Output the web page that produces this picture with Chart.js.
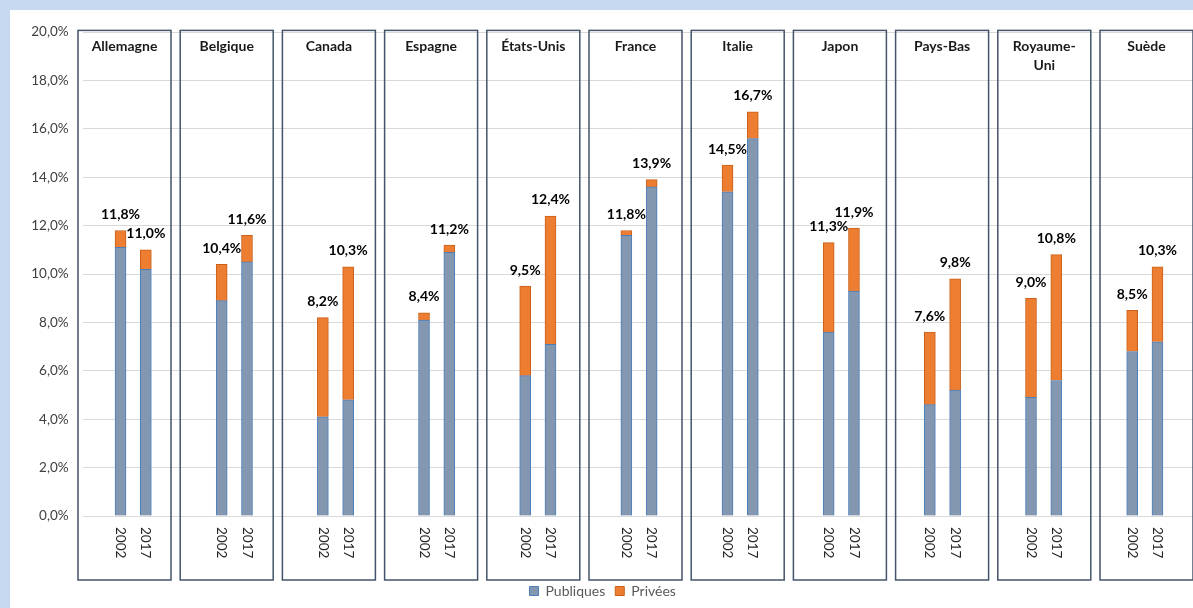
<!DOCTYPE html>
<html>
<head>
<meta charset="utf-8">
<script src="https://cdn.jsdelivr.net/npm/chart.js@4.4.0/dist/chart.umd.min.js"></script>
<style>
  html, body { margin: 0; padding: 0; background: #c6d9f1; overflow: hidden; }
  #wrap { position: absolute; left: 10px; top: 10px; width: 1200px; height: 598px; background: #fff; }
  canvas { display: block; }
</style>
</head>
<body>
<div id="wrap"><canvas id="chart" width="1188" height="598"></canvas></div>
<script>
// pays (un panneau par pays), deux années par panneau
const countries = ["Allemagne", "Belgique", "Canada", "Espagne", "États-Unis", "France",
  "Italie", "Japon", "Pays-Bas", ["Royaume-", "Uni"], "Suède"];
const years = ["2002", "2017"];

// dépenses en % : ordre pays x année (2002, 2017)
const publiques = [11.1, 10.2, 8.9, 10.5, 4.1, 4.8, 8.1, 10.9, 5.8, 7.1, 11.6, 13.6,
  13.4, 15.6, 7.6, 9.3, 4.6, 5.2, 4.9, 5.6, 6.8, 7.2];
const privees = [0.7, 0.8, 1.5, 1.1, 4.1, 5.5, 0.3, 0.3, 3.7, 5.3, 0.2, 0.3,
  1.1, 1.1, 3.7, 2.6, 3.0, 4.6, 4.1, 5.2, 1.7, 3.1];

const yTicks = [0, 2, 4, 6, 8, 10, 12, 14, 16, 18, 20];

const FONT = "Lato, 'Open Sans', sans-serif";
const fmt = (v) => v.toFixed(1).replace(".", ",") + "%";

// position sur l'axe x : 4 cases par pays (vide, 2002, 2017, vide)
const slotOf = (i) => Math.floor(i / 2) * 4 + 1 + (i % 2);

const panelsPlugin = {
  id: "panels",
  beforeDatasetsDraw(chart) {
    const { ctx, chartArea, scales: { x, y } } = chart;
    const zero = y.getPixelForValue(0);
    ctx.save();
    countries.forEach((c, g) => {
      const left = chartArea.left - 4.6 + g * 102.2;
      ctx.strokeStyle = "#44546a";
      ctx.lineWidth = 1.5;
      ctx.strokeRect(left, chartArea.top - 1.7, 93, zero + 64 - chartArea.top + 1.7);

      // titre du panneau
      ctx.fillStyle = "#1a1a1a";
      ctx.font = "bold 14px " + FONT;
      ctx.textAlign = "center";
      ctx.textBaseline = "middle";
      const lines = Array.isArray(c) ? c : [c];
      lines.forEach((l, k) => ctx.fillText(l, left + 46.5, chartArea.top + 14 + k * 19));

      // années, texte tourné
      years.forEach((yr, j) => {
        const px = x.getPixelForValue(g * 4 + 1 + j);
        ctx.save();
        ctx.translate(px, zero + 11);
        ctx.rotate(Math.PI / 2);
        ctx.fillStyle = "#262626";
        ctx.font = "13.5px " + FONT;
        ctx.textAlign = "left";
        ctx.textBaseline = "middle";
        ctx.fillText(yr, 0, 0);
        ctx.restore();
      });
    });
    ctx.restore();
  },
  afterDatasetsDraw(chart) {
    const { ctx, scales: { x, y } } = chart;
    ctx.save();
    ctx.fillStyle = "#000";
    ctx.font = "bold 14px " + FONT;
    ctx.textAlign = "center";
    ctx.textBaseline = "middle";
    publiques.forEach((p, i) => {
      const total = p + privees[i];
      ctx.fillText(fmt(total), x.getPixelForValue(slotOf(i)), y.getPixelForValue(total) - 16);
    });
    ctx.restore();
  }
};

new Chart(document.getElementById("chart"), {
  type: "bar",
  data: {
    datasets: [
      {
        label: "Publiques",
        data: publiques.map((v, i) => ({ x: slotOf(i), y: v })),
        backgroundColor: "#8497b0",
        borderColor: "#4a7ebb",
        borderWidth: 1,
        barThickness: 11,
      },
      {
        label: "Privées",
        data: privees.map((v, i) => ({ x: slotOf(i), y: v })),
        backgroundColor: "#ed7d31",
        borderColor: "#c9601a",
        borderWidth: 1,
        barThickness: 11,
      },
    ],
  },
  options: {
    responsive: false,
    animation: false,
    layout: { padding: { top: 20, right: 2.6, left: 0, bottom: 0 } },
    scales: {
      x: {
        type: "linear",
        stacked: true,
        offset: false,
        bounds: "ticks",
        min: -0.5,
        max: countries.length * 4 - 0.5,
        grid: { display: false },
        border: { display: false },
        ticks: { display: false },
        afterFit: (s) => { s.height = 58; },
      },
      y: {
        stacked: true,
        min: 0,
        max: 20,
        afterBuildTicks: (s) => { s.ticks = yTicks.map((v) => ({ value: v })); },
        afterFit: (s) => { s.width = 72.6; },
        grid: { color: "#d9d9d9", drawTicks: false },
        border: { display: false },
        ticks: {
          padding: 14,
          color: "#404040",
          font: { family: FONT, size: 13.5 },
          callback: (v) => fmt(v),
        },
      },
    },
    plugins: {
      legend: {
        position: "bottom",
        labels: {
          boxWidth: 9,
          boxHeight: 9,
          padding: 10,
          color: "#595959",
          font: { family: FONT, size: 14 },
        },
      },
      tooltip: { enabled: false },
    },
  },
  plugins: [panelsPlugin],
});
</script>
</body>
</html>
